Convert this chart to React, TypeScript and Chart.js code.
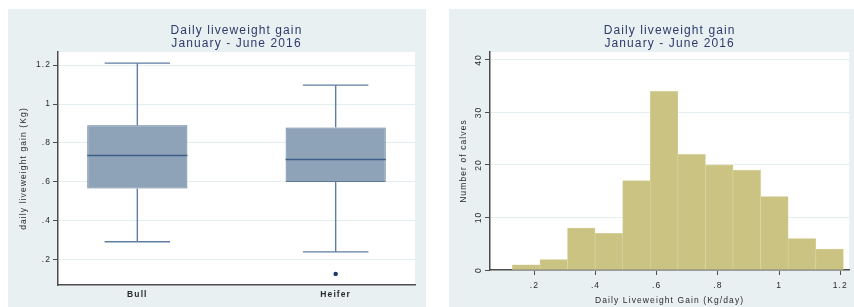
import React, { useEffect, useRef } from "react";
import { Chart, registerables } from "chart.js";

Chart.register(...registerables);

// ---------- shared text ----------
const TITLE_LINES = ["Daily liveweight gain", "January - June 2016"];

// ---------- box plot data ----------
const boxGroups = ["Bull", "Heifer"];
const boxPositions = [0, 1];
const boxMin = [0.293, 0.241];
const boxQ1 = [0.566, 0.6];
const boxMedian = [0.736, 0.715];
const boxQ3 = [0.891, 0.88];
const boxMax = [1.21, 1.097];
const boxOutliers = [[], [0.128]];
const boxYTicks = [0.2, 0.4, 0.6, 0.8, 1, 1.2];
const boxYTickLabels = [".2", ".4", ".6", ".8", "1", "1.2"];
const boxYRange = [0.071, 1.267];
const boxXRange = [-0.4, 1.4];
const boxYTitle = "daily liveweight gain (Kg)";

// ---------- histogram data ----------
const histBinStart = 0.128;
const histBinEnd = 1.21;
const histCounts = [1, 2, 8, 7, 17, 34, 22, 20, 19, 14, 6, 4];
const histXTicks = [0.2, 0.4, 0.6, 0.8, 1, 1.2];
const histXTickLabels = [".2", ".4", ".6", ".8", "1", "1.2"];
const histYTicks = [0, 10, 20, 30, 40];
const histYTickLabels = ["0", "10", "20", "30", "40"];
const histXRange = [0.055, 1.229];
const histYRange = [0, 41.5];
const histXTitle = "Daily Liveweight Gain (Kg/day)";
const histYTitle = "Number of calves";

// ---------- styles ----------
const FONT = "'Liberation Sans', Arial, sans-serif";
const BG = "#e8f0f2";
const GRID = "#e4edef";
const AXIS = "#4d4d4d";
const TEXT = "#2b2b2b";
const TITLE_COLOR = "#2d3b6b";
const BOX_FILL = "#8ea2b8";
const BOX_EDGE = "#5b7898";
const WHISKER = "#5f7da0";
const MEDIAN = "#3e5f86";
const OUTLIER = "#1a3766";
const HIST_FILL = "#cbc381";
const HIST_EDGE = "#ddd7a8";
const BOX_WIDTH = 0.505; // fraction of group spacing
const CAP_HALF = 0.165;
const LETTER_SPACING = "1.1px";
const SMALL = 8.5;

const stylePlugin = {
  id: "stylePlugin",
  beforeLayout(chart: any) {
    (chart.ctx as any).letterSpacing = LETTER_SPACING;
  },
  beforeDraw(chart: any) {
    const { ctx, chartArea } = chart;
    (ctx as any).letterSpacing = LETTER_SPACING;
    ctx.save();
    ctx.fillStyle = "#ffffff";
    ctx.fillRect(chartArea.left, chartArea.top, chartArea.right - chartArea.left, chartArea.bottom - chartArea.top);
    ctx.restore();
  },
};

const titleOptions = {
  display: true,
  text: TITLE_LINES,
  color: TITLE_COLOR,
  fullSize: false,
  font: { size: 12, weight: "normal", lineHeight: 1.1, family: FONT },
  padding: { top: 15, bottom: 1.6 },
};

function labelFrom(values: number[], labels: string[]) {
  return (v: any) => {
    const i = values.findIndex((t) => Math.abs(t - Number(v)) < 1e-9);
    return i >= 0 ? labels[i] : "";
  };
}

function makeBoxChart(canvas: HTMLCanvasElement) {
  const datasets: any[] = [];
  datasets.push({
    type: "bar",
    data: boxPositions.map((x, i) => ({ x, y: [boxQ1[i], boxQ3[i]] })),
    backgroundColor: BOX_FILL,
    borderColor: BOX_EDGE,
    borderWidth: 1,
    borderSkipped: false,
    barPercentage: BOX_WIDTH,
    categoryPercentage: 1,
    order: 3,
  });
  boxPositions.forEach((x, i) => {
    const segs = [
      [{ x, y: boxQ3[i] }, { x, y: boxMax[i] }],
      [{ x, y: boxQ1[i] }, { x, y: boxMin[i] }],
      [{ x: x - CAP_HALF, y: boxMax[i] }, { x: x + CAP_HALF, y: boxMax[i] }],
      [{ x: x - CAP_HALF, y: boxMin[i] }, { x: x + CAP_HALF, y: boxMin[i] }],
    ];
    segs.forEach((seg) =>
      datasets.push({
        type: "line",
        data: seg,
        borderColor: WHISKER,
        borderWidth: 1.4,
        pointRadius: 0,
        order: 2,
      })
    );
    datasets.push({
      type: "line",
      data: [
        { x: x - BOX_WIDTH / 2, y: boxMedian[i] },
        { x: x + BOX_WIDTH / 2, y: boxMedian[i] },
      ],
      borderColor: MEDIAN,
      borderWidth: 1.6,
      pointRadius: 0,
      order: 1,
    });
  });
  datasets.push({
    type: "scatter",
    data: boxPositions.flatMap((x, i) => boxOutliers[i].map((y) => ({ x, y }))),
    backgroundColor: OUTLIER,
    borderWidth: 0,
    pointRadius: 2.2,
    order: 0,
  });

  return new Chart(canvas, {
    type: "bar",
    data: { datasets },
    plugins: [stylePlugin],
    options: {
      animation: false,
      responsive: false,
      events: [],
      layout: { padding: { left: 0, right: 11, top: 0, bottom: 0 } },
      plugins: {
        legend: { display: false },
        tooltip: { enabled: false },
        title: titleOptions as any,
      },
      scales: {
        x: {
          type: "linear",
          min: boxXRange[0],
          max: boxXRange[1],
          offset: false,
          grid: { display: false, drawTicks: false, offset: false },
          border: { display: true, color: AXIS, width: 1.5 },
          afterBuildTicks: (s: any) => {
            s.ticks = boxPositions.map((v) => ({ value: v }));
          },
          ticks: {
            callback: labelFrom(boxPositions, boxGroups),
            padding: 5,
            color: TEXT,
            maxRotation: 0,
            autoSkip: false,
            font: { size: SMALL, family: FONT, weight: "bold" },
          },
          afterFit: (s: any) => {
            s.height = 22;
          },
        },
        y: {
          type: "linear",
          min: boxYRange[0],
          max: boxYRange[1],
          grid: { color: GRID, tickColor: AXIS, tickLength: 5, lineWidth: 1 },
          border: { display: true, color: AXIS, width: 1.5 },
          afterBuildTicks: (s: any) => {
            s.ticks = boxYTicks.map((v) => ({ value: v }));
          },
          ticks: {
            callback: labelFrom(boxYTicks, boxYTickLabels),
            padding: 2,
            color: TEXT,
            font: { size: SMALL, family: FONT },
          },
          title: {
            display: true,
            text: boxYTitle,
            color: TEXT,
            font: { size: SMALL, family: FONT },
            padding: { top: 11, bottom: 0 },
          },
          afterFit: (s: any) => {
            s.width = 50;
          },
        },
      },
    } as any,
  });
}

function makeHistChart(canvas: HTMLCanvasElement) {
  const binWidth = (histBinEnd - histBinStart) / histCounts.length;
  const data = histCounts.map((c, i) => ({ x: histBinStart + binWidth * (i + 0.5), y: c }));
  return new Chart(canvas, {
    type: "bar",
    data: {
      datasets: [
        {
          data,
          backgroundColor: HIST_FILL,
          borderColor: HIST_EDGE,
          borderWidth: 0.6,
          borderSkipped: false,
          barPercentage: 1,
          categoryPercentage: 1,
        },
      ],
    },
    plugins: [stylePlugin],
    options: {
      animation: false,
      responsive: false,
      events: [],
      layout: { padding: { left: 0, right: 0, top: 0, bottom: 0 } },
      plugins: {
        legend: { display: false },
        tooltip: { enabled: false },
        title: titleOptions as any,
      },
      scales: {
        x: {
          type: "linear",
          min: histXRange[0],
          max: histXRange[1],
          offset: false,
          grid: { display: true, drawOnChartArea: false, drawTicks: true, tickLength: 5, tickColor: AXIS, offset: false },
          border: { display: true, color: AXIS, width: 1.5 },
          afterBuildTicks: (s: any) => {
            s.ticks = histXTicks.map((v) => ({ value: v }));
          },
          ticks: {
            callback: labelFrom(histXTicks, histXTickLabels),
            padding: 6,
            color: TEXT,
            maxRotation: 0,
            autoSkip: false,
            font: { size: SMALL, family: FONT },
          },
          title: {
            display: true,
            text: histXTitle,
            color: TEXT,
            font: { size: SMALL, family: FONT },
            padding: { top: 0, bottom: 1 },
          },
          afterFit: (s: any) => {
            s.height = 37;
          },
        },
        y: {
          type: "linear",
          min: histYRange[0],
          max: histYRange[1],
          grid: { color: GRID, tickColor: AXIS, tickLength: 5, lineWidth: 1 },
          border: { display: true, color: AXIS, width: 1.5 },
          afterBuildTicks: (s: any) => {
            s.ticks = histYTicks.map((v) => ({ value: v }));
          },
          ticks: {
            callback: labelFrom(histYTicks, histYTickLabels),
            padding: 1,
            minRotation: 90,
            maxRotation: 90,
            crossAlign: "center",
            color: TEXT,
            font: { size: SMALL, family: FONT },
          },
          title: {
            display: true,
            text: histYTitle,
            color: TEXT,
            font: { size: SMALL, family: FONT },
            padding: { top: 10, bottom: 0 },
          },
          afterFit: (s: any) => {
            s.width = 41;
          },
        },
      },
    } as any,
  });
}

export default function App() {
  const leftRef = useRef<HTMLCanvasElement | null>(null);
  const rightRef = useRef<HTMLCanvasElement | null>(null);

  useEffect(() => {
    const a = makeBoxChart(leftRef.current!);
    const b = makeHistChart(rightRef.current!);
    return () => {
      a.destroy();
      b.destroy();
    };
  }, []);

  return (
    <div style={{ position: "fixed", left: 0, top: 0, width: 854, height: 307, background: "#ffffff", overflow: "hidden" }}>
      <div style={{ position: "absolute", left: 8, top: 9, width: 418, height: 298, background: BG }}>
        <canvas ref={leftRef} width={418} height={298} style={{ display: "block" }} />
      </div>
      <div style={{ position: "absolute", left: 449, top: 9, width: 405, height: 298, background: BG }}>
        <canvas ref={rightRef} width={405} height={298} style={{ display: "block" }} />
      </div>
    </div>
  );
}
